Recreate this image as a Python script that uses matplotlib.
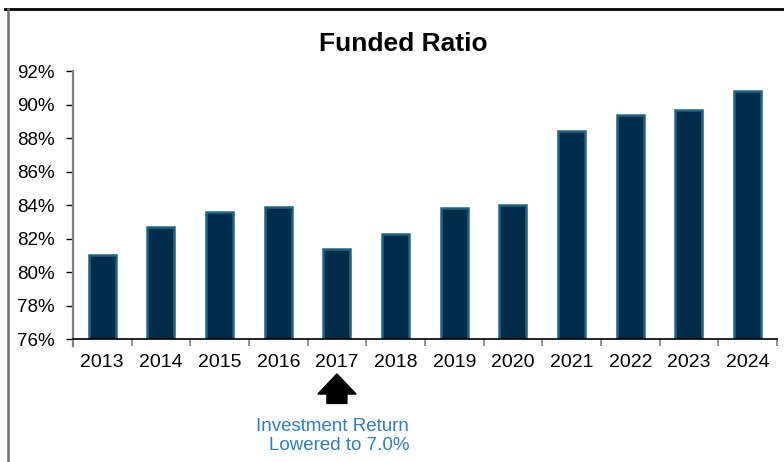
import matplotlib
matplotlib.use("Agg")
import matplotlib.pyplot as plt
from matplotlib.patches import FancyArrow
from matplotlib.lines import Line2D
from matplotlib.ticker import FuncFormatter, MultipleLocator

# Funded ratio by fiscal year (percent)
years = ["2013", "2014", "2015", "2016", "2017", "2018",
         "2019", "2020", "2021", "2022", "2023", "2024"]
funded = [81.0, 82.7, 83.6, 83.9, 81.4, 82.3,
          83.8, 84.0, 88.4, 89.4, 89.7, 90.8]
note_year = "2017"
note_text = "Investment Return\nLowered to 7.0%"

plt.rcParams["font.family"] = ["Liberation Sans", "DejaVu Sans"]

fig = plt.figure(figsize=(7.84, 4.62), dpi=100)
ax = fig.add_axes([0.093, 0.266, 0.898, 0.580])

x = list(range(len(years)))
ax.bar(x, funded, width=0.46, bottom=0, color="#002b49",
       edgecolor="#1d6482", linewidth=1.8, zorder=3)

ax.set_ylim(76, 92)
ax.set_xlim(-0.5, len(years) - 0.5)
ax.yaxis.set_major_locator(MultipleLocator(2))
ax.yaxis.set_major_formatter(FuncFormatter(lambda v, p: f"{v:.0f}%"))

# year labels centred under bars, ticks on the category boundaries
ax.set_xticks(x)
ax.set_xticklabels(years)
ax.set_xticks([i - 0.5 for i in range(len(years) + 1)], minor=True)
ax.tick_params(axis="x", which="major", length=0, pad=11, labelsize=14)
ax.tick_params(axis="x", which="minor", length=5, color="#808080", width=1.2)
ax.tick_params(axis="y", length=5, width=1, color="black", labelsize=13.5, pad=8)

for side in ("top", "right"):
    ax.spines[side].set_visible(False)
ax.spines["left"].set_color("#808080")
ax.spines["left"].set_linewidth(1.6)
ax.spines["left"].set_bounds(75.6, 92)
ax.spines["bottom"].set_color("black")
ax.spines["bottom"].set_linewidth(1.2)
ax.spines["bottom"].set_zorder(4)

fig.text(0.514, 0.905, "Funded Ratio", ha="center", va="center",
         fontsize=19, fontweight="bold")

# up arrow under the year the assumption changed
xi = years.index(note_year)
arrow = FancyArrow(xi, -0.240, 0, 0.110, width=0.34, head_width=0.65,
                   head_length=0.075, length_includes_head=True,
                   color="black", transform=ax.get_xaxis_transform(),
                   clip_on=False)
ax.add_patch(arrow)

fig.text(0.522, 0.018, note_text, ha="right", va="bottom", fontsize=13.5,
         color="#2e7dc5", multialignment="right", linespacing=1.1)

# frame lines around the chart area
fig.add_artist(Line2D([5 / 784, 1], [1 - 9 / 462, 1 - 9 / 462],
                      color="black", linewidth=2))
fig.add_artist(Line2D([7.5 / 784, 7.5 / 784], [0, 1 - 9 / 462],
                      color="#707070", linewidth=1.8))

fig.savefig("out.png", dpi=100)
